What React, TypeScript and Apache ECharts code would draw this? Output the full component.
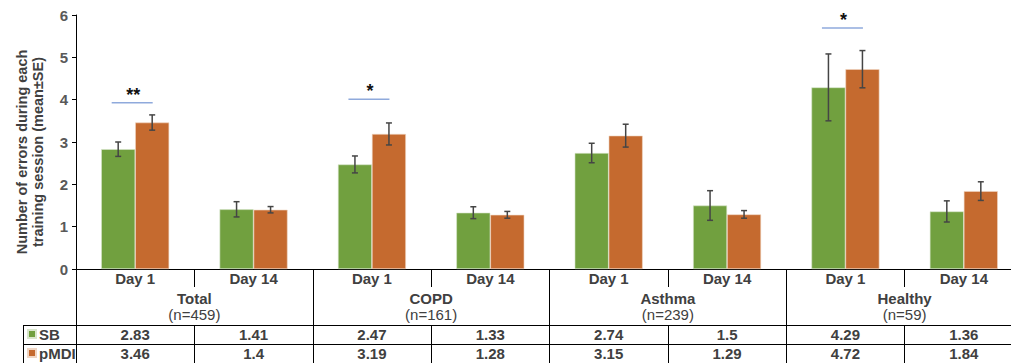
import React, { useEffect, useRef } from "react";
import * as echarts from "echarts";

const categories = ["Day 1", "Day 14", "Day 1", "Day 14", "Day 1", "Day 14", "Day 1", "Day 14"];
const groups = ["Total", "COPD", "Asthma", "Healthy"];
const groupN = ["(n=459)", "(n=161)", "(n=239)", "(n=59)"];
const sbValues = [2.83, 1.41, 2.47, 1.33, 2.74, 1.5, 4.29, 1.36];
const pmdiValues = [3.46, 1.4, 3.19, 1.28, 3.15, 1.29, 4.72, 1.84];
const sbErrors = [0.17, 0.18, 0.2, 0.14, 0.23, 0.35, 0.79, 0.25];
const pmdiErrors = [0.18, 0.075, 0.26, 0.08, 0.27, 0.09, 0.44, 0.22];
const sigCategory = [0, 2, 6];
const sigLevel = [3.93, 4.01, 5.69];
const sigLabel = ["**", "*", "*"];

const GREEN = "#71A03F";
const ORANGE = "#C56A2F";
const TEXT = "#404040";
const FONT = "'Liberation Sans', Arial, sans-serif";
const BAR_W = 34;
const FS = 15;

export default function App() {
  const ref = useRef<HTMLDivElement>(null);
  useEffect(() => {
    if (!ref.current) return;
    const chart = echarts.init(ref.current, null, { renderer: "svg" });

    const errSeries = (vals: number[], errs: number[], offset: number, name: string) => ({
      type: "custom",
      name,
      xAxisIndex: 0,
      yAxisIndex: 0,
      z: 10,
      silent: true,
      encode: { x: 0, y: 1 },
      data: vals.map((v, i) => [i, v, errs[i]]),
      renderItem: (params: any, api: any) => {
        const x = api.value(0);
        const v = api.value(1);
        const e = api.value(2);
        const top = api.coord([x, v + e]);
        const bot = api.coord([x, v - e]);
        const cx = top[0] + offset;
        const st = { stroke: "#454545", lineWidth: 1.5 };
        return {
          type: "group",
          children: [
            { type: "line", shape: { x1: cx, y1: top[1], x2: cx, y2: bot[1] }, style: st },
            { type: "line", shape: { x1: cx - 3, y1: top[1], x2: cx + 3, y2: top[1] }, style: st },
            { type: "line", shape: { x1: cx - 3, y1: bot[1], x2: cx + 3, y2: bot[1] }, style: st },
          ],
        };
      },
    });

    const valueAxisLabel = { interval: 0, fontFamily: FONT, fontSize: FS, fontWeight: "bold", color: TEXT, margin: 2 };

    const option: any = {
      animation: false,
      textStyle: { fontFamily: FONT },
      grid: { left: 76, top: 15, width: 947, height: 254 },
      legend: {
        orient: "vertical",
        left: 27,
        top: 326,
        itemWidth: 8,
        itemHeight: 8,
        itemGap: 3,
        icon: "rect",
        padding: 0,
        data: ["SB", "pMDI"],
        textStyle: { fontFamily: FONT, fontSize: FS, fontWeight: "bold", color: TEXT, padding: [0, 0, 0, -2], lineHeight: 16 },
      },
      yAxis: {
        type: "value",
        min: 0,
        max: 6,
        interval: 1,
        splitLine: { show: false },
        axisLine: { show: true, lineStyle: { color: "#000", width: 1 } },
        axisTick: { show: true, length: 4, lineStyle: { color: "#000" } },
        axisLabel: { fontFamily: FONT, fontSize: FS, fontWeight: "bold", color: "#595959", margin: 8 },
        name: "Number of errors during each\ntraining session (mean±SE)",
        nameLocation: "middle",
        nameRotate: 90,
        nameGap: 30,
        nameTextStyle: { fontFamily: FONT, fontSize: 14.5, fontWeight: "bold", color: TEXT, lineHeight: 16, padding: [0, 20, 0, 0] },
      },
      xAxis: [
        {
          type: "category",
          data: categories,
          position: "bottom",
          axisLine: { show: true, lineStyle: { color: "#000", width: 1 } },
          axisTick: { show: true, interval: 0, length: 18, lineStyle: { color: "#000" } },
          axisLabel: { interval: 0, fontFamily: FONT, fontSize: FS, fontWeight: "bold", color: TEXT, margin: 2 },
        },
        {
          type: "category",
          data: groups.map((g, i) => g + "\n" + groupN[i]),
          position: "bottom",
          offset: 0,
          axisLine: { show: false },
          axisTick: { show: true, interval: 0, length: 56, lineStyle: { color: "#000" } },
          axisLabel: {
            interval: 0,
            margin: 21,
            formatter: (val: string) => {
              const [a, b] = val.split("\n");
              return "{a|" + a + "}\n{b|" + b + "}";
            },
            rich: {
              a: { fontFamily: FONT, fontSize: FS, fontWeight: "bold", color: TEXT, lineHeight: 16 },
              b: { fontFamily: FONT, fontSize: FS, color: TEXT, lineHeight: 16 },
            },
          },
        },
        {
          type: "category",
          data: sbValues.map((v) => String(v)),
          position: "bottom",
          offset: 56,
          axisLine: { show: true, lineStyle: { color: "#000", width: 1 } },
          axisTick: { show: true, interval: 0, length: 19, lineStyle: { color: "#000" } },
          axisLabel: valueAxisLabel,
        },
        {
          type: "category",
          data: pmdiValues.map((v) => String(v)),
          position: "bottom",
          offset: 75,
          axisLine: { show: true, lineStyle: { color: "#000", width: 1 } },
          axisTick: { show: true, interval: 0, length: 25, lineStyle: { color: "#000" } },
          axisLabel: valueAxisLabel,
        },
      ],
      graphic: [
        { type: "line", shape: { x1: 23, y1: 325.5, x2: 76, y2: 325.5 }, style: { stroke: "#000", lineWidth: 1 } },
        { type: "line", shape: { x1: 23, y1: 344.5, x2: 76, y2: 344.5 }, style: { stroke: "#000", lineWidth: 1 } },
        { type: "line", shape: { x1: 23.5, y1: 325, x2: 23.5, y2: 400 }, style: { stroke: "#000", lineWidth: 1 } },
      ],
      series: [
        {
          type: "bar",
          name: "SB",
          xAxisIndex: 0,
          data: sbValues,
          barWidth: BAR_W,
          barGap: "0%",
          itemStyle: { color: GREEN, borderColor: "#d9e6cc", borderWidth: 0.6 },
        },
        {
          type: "bar",
          name: "pMDI",
          xAxisIndex: 0,
          data: pmdiValues,
          barWidth: BAR_W,
          barGap: "0%",
          itemStyle: { color: ORANGE, borderColor: "#f0d6c4", borderWidth: 0.6 },
        },
        errSeries(sbValues, sbErrors, -BAR_W / 2, "sbErr"),
        errSeries(pmdiValues, pmdiErrors, BAR_W / 2, "pmdiErr"),
        {
          type: "custom",
          name: "sig",
          xAxisIndex: 0,
          z: 11,
          silent: true,
          encode: { x: 0, y: 1 },
          data: sigCategory.map((c, i) => [c, sigLevel[i]]),
          renderItem: (params: any, api: any) => {
            const p = api.coord([api.value(0), api.value(1)]);
            const cx = p[0] - 3;
            return {
              type: "group",
              children: [
                {
                  type: "line",
                  shape: { x1: cx - 20.5, y1: p[1], x2: cx + 20.5, y2: p[1] },
                  style: { stroke: "#8FAADC", lineWidth: 1.5 },
                },
                {
                  type: "text",
                  x: cx + 1,
                  y: p[1] - 8,
                  style: {
                    text: sigLabel[params.dataIndex],
                    fontFamily: FONT,
                    fontSize: 18,
                    fontWeight: "bold",
                    fill: "#111",
                    align: "center",
                    verticalAlign: "middle",
                  },
                },
              ],
            };
          },
        },
      ],
    };
    chart.setOption(option);
    return () => chart.dispose();
  }, []);

  return (
    <div style={{ position: "absolute", left: 0, top: 0, width: 1011, height: 363, overflow: "hidden", background: "#fff" }}>
      <div ref={ref} style={{ width: 1040, height: 420 }} />
    </div>
  );
}
